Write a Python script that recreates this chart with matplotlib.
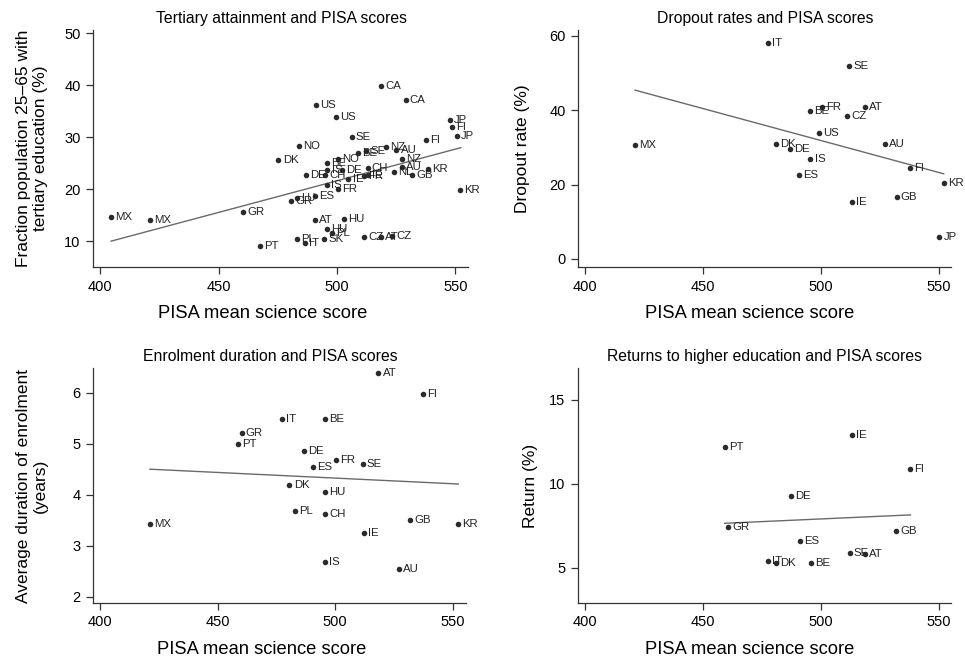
import matplotlib
matplotlib.use('Agg')
import matplotlib.pyplot as plt

plt.rcParams['font.family'] = ['Liberation Sans', 'DejaVu Sans']

# Tertiary attainment vs PISA (two PISA rounds, so countries appear twice)
tert_score = [404.6, 421.2, 460.3, 467.5, 480.8, 483.0, 490.7, 490.7, 503.0, 495.8,
              498.0, 483.0, 486.5, 494.6, 511.4, 518.4, 523.4, 551.9, 538.5, 531.8,
              524.2, 527.3, 527.6, 520.7, 525.1, 512.2, 508.7, 506.2, 537.6, 547.7,
              548.4, 550.5, 518.6, 529.0, 491.0, 499.6, 484.1, 475.3, 500.5, 495.6,
              502.2, 487.0, 496.0, 495.9, 512.9, 495.0, 504.8, 513.2, 511.4, 500.5]
tert_value = [14.6, 14.0, 15.6, 9.0, 17.7, 18.4, 18.7, 14.0, 14.2, 12.4,
              11.5, 10.4, 9.6, 10.5, 10.8, 10.8, 11.0, 19.8, 23.8, 22.7,
              23.3, 24.3, 25.8, 28.1, 27.5, 27.4, 27.0, 30.1, 29.4, 33.3,
              31.9, 30.3, 39.8, 37.1, 36.3, 33.9, 28.4, 25.7, 25.8, 25.1,
              23.7, 22.7, 23.7, 20.9, 24.1, 22.8, 22.0, 22.8, 22.5, 20.1]
tert_label = ['MX', 'MX', 'GR', 'PT', 'GR', 'LU', 'ES', 'AT', 'HU', 'HU',
              'PL', 'PL', 'IT', 'SK', 'CZ', 'AT', 'CZ', 'KR', 'KR', 'GB',
              'NL', 'AU', 'NZ', 'NZ', 'AU', 'SE', 'BE', 'SE', 'FI', 'JP',
              'FI', 'JP', 'CA', 'CA', 'US', 'US', 'NO', 'DK', 'NO', 'BE',
              'DE', 'DE', 'IS', 'IS', 'CH', 'CH', 'IE', 'IE', 'FR', 'FR']
tert_fit_x = [404.6, 552.3]
tert_fit_y = [10.0, 28.0]

# Dropout rates vs PISA
drop_score = [477.5, 512.1, 500.5, 495.6, 518.6, 511.3, 499.3, 421.2, 480.9, 487.0,
              527.4, 495.6, 490.8, 537.9, 552.2, 532.2, 513.2, 550.3]
drop_value = [58.1, 52.0, 40.8, 39.9, 40.8, 38.5, 33.9, 30.7, 30.8, 29.6,
              30.8, 26.8, 22.7, 24.5, 20.5, 16.7, 15.2, 5.8]
drop_label = ['IT', 'SE', 'FR', 'BE', 'AT', 'CZ', 'US', 'MX', 'DK', 'DE',
              'AU', 'IS', 'ES', 'FI', 'KR', 'GB', 'IE', 'JP']
drop_fit_x = [421.2, 552.2]
drop_fit_y = [45.4, 22.9]

# Enrolment duration vs PISA
enrol_score = [518.4, 537.3, 477.2, 495.6, 460.2, 458.8, 486.8, 500.3, 490.6, 511.8,
               480.6, 495.9, 483.1, 495.6, 421.2, 532.0, 552.1, 512.3, 495.6, 527.2]
enrol_value = [6.38, 5.98, 5.48, 5.48, 5.21, 5.00, 4.86, 4.68, 4.54, 4.61,
               4.19, 4.05, 3.68, 3.62, 3.43, 3.50, 3.43, 3.25, 2.69, 2.54]
enrol_label = ['AT', 'FI', 'IT', 'BE', 'GR', 'PT', 'DE', 'FR', 'ES', 'SE',
               'DK', 'HU', 'PL', 'CH', 'MX', 'GB', 'KR', 'IE', 'IS', 'AU']
enrol_fit_x = [421.2, 552.4]
enrol_fit_y = [4.50, 4.21]

# Returns to higher education vs PISA
ret_score = [513.4, 459.2, 537.7, 487.2, 460.7, 532.1, 491.1, 512.3, 518.6, 477.7,
             481.2, 495.8]
ret_value = [12.9, 12.2, 10.9, 9.3, 7.4, 7.2, 6.6, 5.9, 5.8, 5.4,
             5.3, 5.3]
ret_label = ['IE', 'PT', 'FI', 'DE', 'GR', 'GB', 'ES', 'SE', 'AT', 'IT',
             'DK', 'BE']
ret_fit_x = [459.2, 538.1]
ret_fit_y = [7.65, 8.15]

panels = [
    ('Tertiary attainment and PISA scores', tert_score, tert_value, tert_label,
     tert_fit_x, tert_fit_y, 'Fraction population 25\u201365 with\ntertiary education (%)',
     (5.0, 50.6), [10, 20, 30, 40, 50]),
    ('Dropout rates and PISA scores', drop_score, drop_value, drop_label,
     drop_fit_x, drop_fit_y, 'Dropout rate (%)', (-2.2, 61.5), [0, 20, 40, 60]),
    ('Enrolment duration and PISA scores', enrol_score, enrol_value, enrol_label,
     enrol_fit_x, enrol_fit_y, 'Average duration of enrolment\n(years)',
     (1.88, 6.48), [2, 3, 4, 5, 6]),
    ('Returns to higher education and PISA scores', ret_score, ret_value, ret_label,
     ret_fit_x, ret_fit_y, 'Return (%)', (2.9, 16.9), [5, 10, 15]),
]

positions = [
    [0.0964, 0.594, 0.389, 0.360],
    [0.599, 0.594, 0.387, 0.360],
    [0.0964, 0.0836, 0.386, 0.357],
    [0.599, 0.0836, 0.387, 0.357],
]
# where the y label, x label and title sit, in axes fractions
ylabel_x = [-0.12, -0.128, -0.121, -0.107]
xlabel_x = [0.453, 0.46, 0.453, 0.46]
title_x = [0.502, 0.50, 0.476, 0.50]

fig = plt.figure(figsize=(9.65, 6.58), dpi=100)
dot_color = '#2b2b2b'

for i, (title, xs, ys, labels, fx, fy, ylab, ylim, yticks) in enumerate(panels):
    ax = fig.add_axes(positions[i])
    ax.plot(fx, fy, color='#6a6a6a', lw=1.0, zorder=1)
    ax.scatter(xs, ys, s=16, color=dot_color, zorder=2, linewidths=0)
    for x, y, lab in zip(xs, ys, labels):
        ax.annotate(lab, (x, y), xytext=(3, 0), textcoords='offset points',
                    va='center', ha='left', fontsize=8.2, color='#222222')
    ax.set_xlim(397, 555.5)
    ax.set_ylim(*ylim)
    ax.set_xticks([400, 450, 500, 550])
    ax.set_yticks(yticks)
    ax.set_title(title, fontsize=11.3, pad=5, x=title_x[i])
    ax.set_xlabel('PISA mean science score', fontsize=13.2)
    ax.xaxis.set_label_coords(xlabel_x[i], -0.16)
    ax.set_ylabel(ylab, fontsize=12.5)
    ax.yaxis.set_label_coords(ylabel_x[i], 0.5)
    for side in ['top', 'right']:
        ax.spines[side].set_visible(False)
    for side in ['left', 'bottom']:
        ax.spines[side].set_color('#333333')
        ax.spines[side].set_linewidth(0.9)
    ax.tick_params(direction='out', length=5, width=0.9, color='#333333',
                   labelsize=10.5, pad=4)

fig.savefig('out.png', dpi=100)
